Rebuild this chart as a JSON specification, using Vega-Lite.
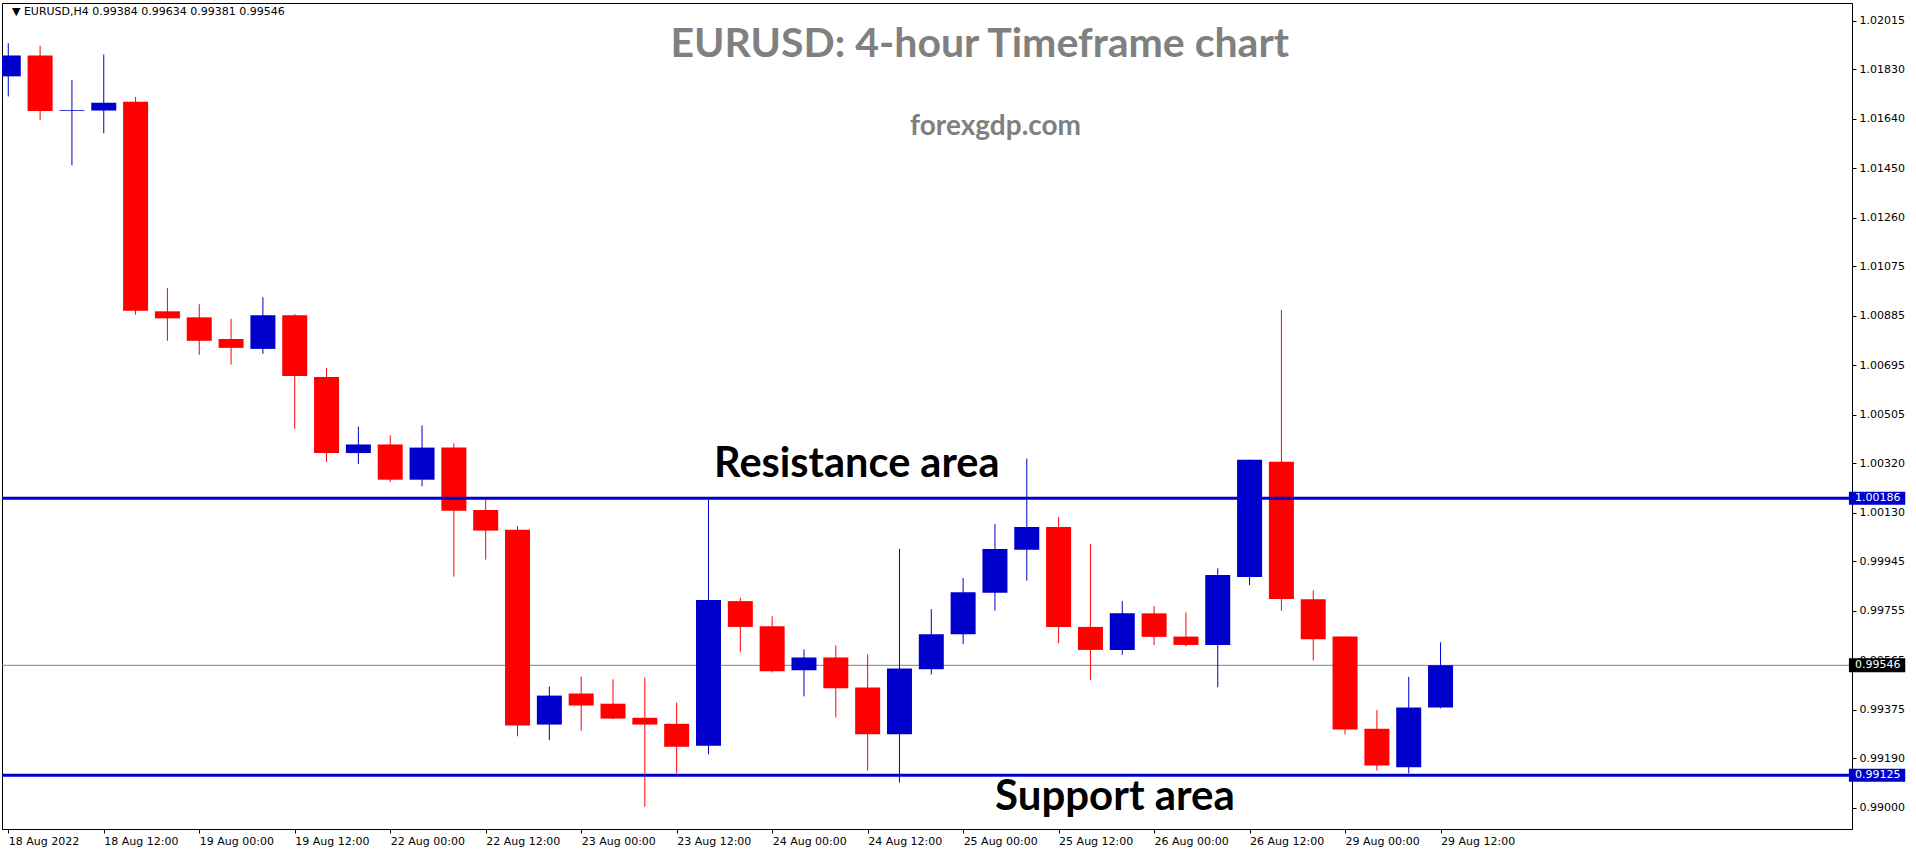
{
  "$schema": "https://vega.github.io/schema/vega-lite/v6.json",
  "width": 1850,
  "height": 826,
  "autosize": {"type": "none"},
  "padding": {"left": 2, "top": 3, "right": 64, "bottom": 21},
  "background": "white",
  "config": {
    "view": {"stroke": "#000000", "strokeWidth": 1},
    "axis": {"grid": false, "domainColor": "#000000", "tickColor": "#000000", "labelColor": "#000000", "labelFont": "DejaVu Sans", "labelFontSize": 11, "title": null}
  },
  "data": {
    "values": [
      {"i": 0, "time": "18 Aug 00:00", "open": 1.01802, "high": 1.01929, "low": 1.01725, "close": 1.01882},
      {"i": 1, "time": "18 Aug 04:00", "open": 1.01882, "high": 1.01919, "low": 1.01634, "close": 1.01669},
      {"i": 2, "time": "18 Aug 08:00", "open": 1.01670, "high": 1.01788, "low": 1.01461, "close": 1.01673},
      {"i": 3, "time": "18 Aug 12:00", "open": 1.01671, "high": 1.01886, "low": 1.01584, "close": 1.01701},
      {"i": 4, "time": "18 Aug 16:00", "open": 1.01705, "high": 1.01723, "low": 1.00889, "close": 1.00904},
      {"i": 5, "time": "18 Aug 20:00", "open": 1.00902, "high": 1.00991, "low": 1.00789, "close": 1.00875},
      {"i": 6, "time": "19 Aug 00:00", "open": 1.00879, "high": 1.00929, "low": 1.00735, "close": 1.00789},
      {"i": 7, "time": "19 Aug 04:00", "open": 1.00796, "high": 1.00873, "low": 1.00698, "close": 1.00762},
      {"i": 8, "time": "19 Aug 08:00", "open": 1.00758, "high": 1.00956, "low": 1.00739, "close": 1.00887},
      {"i": 9, "time": "19 Aug 12:00", "open": 1.00887, "high": 1.00891, "low": 1.00452, "close": 1.00654},
      {"i": 10, "time": "19 Aug 16:00", "open": 1.00650, "high": 1.00685, "low": 1.00325, "close": 1.00359},
      {"i": 11, "time": "19 Aug 20:00", "open": 1.00359, "high": 1.00461, "low": 1.00317, "close": 1.00392},
      {"i": 12, "time": "22 Aug 00:00", "open": 1.00392, "high": 1.00427, "low": 1.00248, "close": 1.00257},
      {"i": 13, "time": "22 Aug 04:00", "open": 1.00257, "high": 1.00465, "low": 1.00232, "close": 1.00380},
      {"i": 14, "time": "22 Aug 08:00", "open": 1.00380, "high": 1.00396, "low": 0.99886, "close": 1.00138},
      {"i": 15, "time": "22 Aug 12:00", "open": 1.00141, "high": 1.00180, "low": 0.99951, "close": 1.00062},
      {"i": 16, "time": "22 Aug 16:00", "open": 1.00065, "high": 1.00079, "low": 0.99274, "close": 0.99315},
      {"i": 17, "time": "22 Aug 20:00", "open": 0.99319, "high": 0.99465, "low": 0.99259, "close": 0.99430},
      {"i": 18, "time": "23 Aug 00:00", "open": 0.99438, "high": 0.99503, "low": 0.99296, "close": 0.99392},
      {"i": 19, "time": "23 Aug 04:00", "open": 0.99399, "high": 0.99492, "low": 0.99340, "close": 0.99342},
      {"i": 20, "time": "23 Aug 08:00", "open": 0.99345, "high": 0.99499, "low": 0.99004, "close": 0.99319},
      {"i": 21, "time": "23 Aug 12:00", "open": 0.99322, "high": 0.99403, "low": 0.99132, "close": 0.99234},
      {"i": 22, "time": "23 Aug 16:00", "open": 0.99238, "high": 1.00181, "low": 0.99205, "close": 0.99796},
      {"i": 23, "time": "23 Aug 20:00", "open": 0.99792, "high": 0.99805, "low": 0.99596, "close": 0.99693},
      {"i": 24, "time": "24 Aug 00:00", "open": 0.99696, "high": 0.99734, "low": 0.99519, "close": 0.99523},
      {"i": 25, "time": "24 Aug 04:00", "open": 0.99527, "high": 0.99607, "low": 0.99427, "close": 0.99576},
      {"i": 26, "time": "24 Aug 08:00", "open": 0.99576, "high": 0.99622, "low": 0.99346, "close": 0.99458},
      {"i": 27, "time": "24 Aug 12:00", "open": 0.99461, "high": 0.99588, "low": 0.99143, "close": 0.99282},
      {"i": 28, "time": "24 Aug 16:00", "open": 0.99282, "high": 0.99992, "low": 0.99097, "close": 0.99534},
      {"i": 29, "time": "24 Aug 20:00", "open": 0.99531, "high": 0.99761, "low": 0.99511, "close": 0.99665},
      {"i": 30, "time": "25 Aug 00:00", "open": 0.99665, "high": 0.99880, "low": 0.99627, "close": 0.99826},
      {"i": 31, "time": "25 Aug 04:00", "open": 0.99824, "high": 1.00087, "low": 0.99756, "close": 0.99992},
      {"i": 32, "time": "25 Aug 08:00", "open": 0.99989, "high": 1.00338, "low": 0.99870, "close": 1.00076},
      {"i": 33, "time": "25 Aug 12:00", "open": 1.00076, "high": 1.00114, "low": 0.99631, "close": 0.99693},
      {"i": 34, "time": "25 Aug 16:00", "open": 0.99693, "high": 1.00011, "low": 0.99489, "close": 0.99605},
      {"i": 35, "time": "25 Aug 20:00", "open": 0.99605, "high": 0.99792, "low": 0.99586, "close": 0.99745},
      {"i": 36, "time": "26 Aug 00:00", "open": 0.99745, "high": 0.99773, "low": 0.99624, "close": 0.99655},
      {"i": 37, "time": "26 Aug 04:00", "open": 0.99656, "high": 0.99749, "low": 0.99619, "close": 0.99624},
      {"i": 38, "time": "26 Aug 08:00", "open": 0.99624, "high": 0.99918, "low": 0.99462, "close": 0.99892},
      {"i": 39, "time": "26 Aug 12:00", "open": 0.99884, "high": 1.00334, "low": 0.99853, "close": 1.00333},
      {"i": 40, "time": "26 Aug 16:00", "open": 1.00326, "high": 1.00907, "low": 0.99755, "close": 0.99800},
      {"i": 41, "time": "26 Aug 20:00", "open": 0.99799, "high": 0.99833, "low": 0.99565, "close": 0.99646},
      {"i": 42, "time": "29 Aug 00:00", "open": 0.99656, "high": 0.99656, "low": 0.99281, "close": 0.99300},
      {"i": 43, "time": "29 Aug 04:00", "open": 0.99303, "high": 0.99375, "low": 0.99143, "close": 0.99162},
      {"i": 44, "time": "29 Aug 08:00", "open": 0.99156, "high": 0.99502, "low": 0.99132, "close": 0.99384},
      {"i": 45, "time": "29 Aug 12:00", "open": 0.99384, "high": 0.99634, "low": 0.99381, "close": 0.99546}
    ]
  },
  "encoding": {
    "x": {
      "field": "i", "type": "quantitative",
      "scale": {"domain": [-0.04, 57.77], "nice": false, "zero": false},
      "axis": {
        "orient": "bottom",
        "values": [0, 3, 6, 9, 12, 15, 18, 21, 24, 27, 30, 33, 36, 39, 42, 45],
        "labelExpr": "['18 Aug 2022','18 Aug 12:00','19 Aug 00:00','19 Aug 12:00','22 Aug 00:00','22 Aug 12:00','23 Aug 00:00','23 Aug 12:00','24 Aug 00:00','24 Aug 12:00','25 Aug 00:00','25 Aug 12:00','26 Aug 00:00','26 Aug 12:00','29 Aug 00:00','29 Aug 12:00'][round(datum.value/3)]",
        "labelAlign": "left",
        "labelBaseline": "top",
        "labelPadding": 2,
        "tickSize": 4,
        "labelFlush": false,
        "labelOverlap": false
      }
    },
    "y": {
      "field": "low", "type": "quantitative",
      "scale": {"domain": [0.98919, 1.02083], "nice": false, "zero": false},
      "axis": {
        "orient": "right",
        "values": [1.02015, 1.0183, 1.0164, 1.0145, 1.0126, 1.01075, 1.00885, 1.00695, 1.00505, 1.0032, 1.0013, 0.99945, 0.99755, 0.99565, 0.99375, 0.9919, 0.99],
        "format": ".5f",
        "tickSize": 4,
        "labelPadding": 3,
        "labelFlush": false,
        "labelOverlap": false
      }
    }
  },
  "layer": [
    {
      "transform": [{"filter": "datum.i == 45"}],
      "mark": {"type": "rule", "color": "#808080", "strokeWidth": 1},
      "encoding": {"x": null, "y": {"field": "close", "type": "quantitative"}}
    },
    {
      "mark": {"type": "rule", "clip": true, "strokeWidth": 1},
      "encoding": {
        "y2": {"field": "high"},
        "color": {"condition": {"test": "datum.close >= datum.open", "value": "#0000CD"}, "value": "#FF0000"}
      }
    },
    {
      "mark": {"type": "bar", "clip": true},
      "encoding": {
        "y": {"field": "open", "type": "quantitative"},
        "y2": {"field": "close"},
        "size": {"value": 25},
        "color": {"condition": {"test": "datum.close >= datum.open", "value": "#0000CD"}, "value": "#FF0000"}
      }
    },
    {
      "transform": [{"filter": "datum.i == 0"}],
      "mark": {"type": "rule", "color": "#0000CD", "strokeWidth": 3},
      "encoding": {"x": null, "y": {"datum": 1.00186}}
    },
    {
      "transform": [{"filter": "datum.i == 0"}],
      "mark": {"type": "rule", "color": "#0000CD", "strokeWidth": 3},
      "encoding": {"x": null, "y": {"datum": 0.99125}}
    },
    {
      "transform": [{"filter": "datum.i == 0"}],
      "mark": {"type": "text", "text": "\u25bc EURUSD,H4  0.99384 0.99634 0.99381 0.99546", "font": "DejaVu Sans", "fontSize": 11, "color": "#000000", "align": "left", "baseline": "middle"},
      "encoding": {"x": {"datum": 0.116}, "y": {"datum": 1.0205}}
    },
    {
      "transform": [{"filter": "datum.i == 0"}],
      "mark": {"type": "text", "text": "EURUSD: 4-hour Timeframe chart", "font": "Lato", "fontWeight": "bold", "fontSize": 41, "color": "#808080", "align": "center", "baseline": "alphabetic"},
      "encoding": {"x": {"datum": 30.52}, "y": {"datum": 1.01875}}
    },
    {
      "transform": [{"filter": "datum.i == 0"}],
      "mark": {"type": "text", "text": "forexgdp.com", "font": "Lato", "fontWeight": "bold", "fontSize": 28, "color": "#808080", "align": "center", "baseline": "alphabetic"},
      "encoding": {"x": {"datum": 31.02}, "y": {"datum": 1.01579}}
    },
    {
      "transform": [{"filter": "datum.i == 0"}],
      "mark": {"type": "text", "text": "Resistance area", "font": "Lato", "fontWeight": "bold", "fontSize": 41.5, "color": "#000000", "align": "center", "baseline": "alphabetic"},
      "encoding": {"x": {"datum": 26.66}, "y": {"datum": 1.00266}}
    },
    {
      "transform": [{"filter": "datum.i == 0"}],
      "mark": {"type": "text", "text": "Support area", "font": "Lato", "fontWeight": "bold", "fontSize": 42, "color": "#000000", "align": "center", "baseline": "alphabetic"},
      "encoding": {"x": {"datum": 34.77}, "y": {"datum": 0.98992}}
    },
    {
      "transform": [{"filter": "datum.i == 0"}],
      "mark": {"type": "rule", "color": "#0000CD", "strokeWidth": 13, "strokeCap": "butt"},
      "encoding": {"x": {"datum": 57.83}, "x2": {"datum": 59.6}, "y": {"datum": 1.00186}}
    },
    {
      "transform": [{"filter": "datum.i == 0"}],
      "mark": {"type": "rule", "color": "#0000CD", "strokeWidth": 13, "strokeCap": "butt"},
      "encoding": {"x": {"datum": 57.83}, "x2": {"datum": 59.6}, "y": {"datum": 0.99125}}
    },
    {
      "transform": [{"filter": "datum.i == 0"}],
      "mark": {"type": "rule", "color": "#000000", "strokeWidth": 14, "strokeCap": "butt"},
      "encoding": {"x": {"datum": 57.83}, "x2": {"datum": 59.6}, "y": {"datum": 0.99546}}
    },
    {
      "transform": [{"filter": "datum.i == 0"}],
      "mark": {"type": "text", "text": "1.00186", "font": "DejaVu Sans", "fontSize": 11, "color": "#FFFFFF", "align": "left", "baseline": "middle"},
      "encoding": {"x": {"datum": 58.02}, "y": {"datum": 1.00186}}
    },
    {
      "transform": [{"filter": "datum.i == 0"}],
      "mark": {"type": "text", "text": "0.99125", "font": "DejaVu Sans", "fontSize": 11, "color": "#FFFFFF", "align": "left", "baseline": "middle"},
      "encoding": {"x": {"datum": 58.02}, "y": {"datum": 0.99125}}
    },
    {
      "transform": [{"filter": "datum.i == 0"}],
      "mark": {"type": "text", "text": "0.99546", "font": "DejaVu Sans", "fontSize": 11, "color": "#FFFFFF", "align": "left", "baseline": "middle"},
      "encoding": {"x": {"datum": 58.02}, "y": {"datum": 0.99546}}
    }
  ]
}
